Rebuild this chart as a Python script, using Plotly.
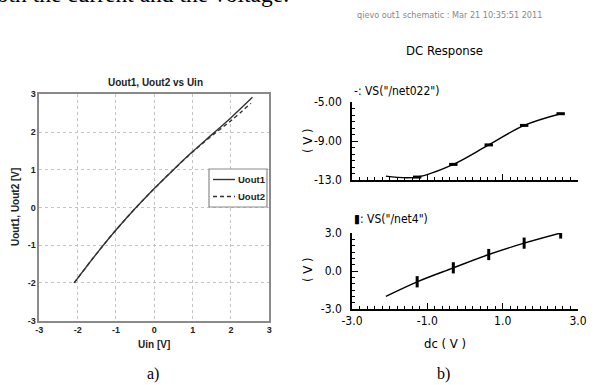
import plotly.graph_objects as go

W, H = 597, 385

# ---- panel a) data (Matlab style) ----
uin_1 = [-2.09, -1.5, -1.0, -0.5, 0.0, 0.5, 1.0, 1.5, 2.0, 2.56]
uout_1 = [-2.0, -1.22, -0.6, -0.03, 0.5, 1.0, 1.48, 1.93, 2.38, 2.92]
uin_2 = [-2.09, -1.5, -1.0, -0.5, 0.0, 0.5, 1.0, 1.5, 2.0, 2.52]
uout_2 = [-2.0, -1.22, -0.6, -0.03, 0.5, 1.0, 1.47, 1.9, 2.3, 2.76]
a_ticks = [-3, -2, -1, 0, 1, 2, 3]
a_ticktext = ["-3", "-2", "-1", "0", "1", "2", "3"]
legend_names = ["Uout1", "Uout2"]

# ---- panel b) data (Cadence style) ----
net022_x = [-2.1, -1.27, -0.31, 0.63, 1.57, 2.54]
net022_y = [-12.6, -12.7, -11.4, -9.4, -7.4, -6.2]
net022_mx = [-1.27, -0.31, 0.63, 1.57, 2.54]
net022_my = [-12.7, -11.4, -9.4, -7.4, -6.2]
net4_x = [-2.1, -1.27, -0.31, 0.63, 1.57, 2.54]
net4_y = [-2.0, -0.85, 0.25, 1.3, 2.2, 3.0]
net4_mx = [-1.27, -0.31, 0.63, 1.57, 2.54]
net4_my = [-0.85, 0.25, 1.3, 2.2, 3.0]
b_xticks = [-3, -1, 1, 3]
b_xticktext = ["-3.0", "-1.0", "1.0", "3.0"]
top_yticks = [-13, -9, -5]
top_yticktext = ["-13.0", "-9.00", "-5.00"]
bot_yticks = [-3, 0, 3]
bot_yticktext = ["-3.0", "0.0", "3.0"]


def px(x):
    return x / W


def py(y):
    return 1 - y / H


ARIAL = "Liberation Sans, Arial, sans-serif"
NARROW = "Liberation Sans Narrow, Arial Narrow, DejaVu Sans Condensed, sans-serif"
TIMES = "Liberation Serif, Times New Roman, serif"
LINE_A = "#333333"

fig = go.Figure()

fig.add_trace(go.Scatter(x=uin_1, y=uout_1, mode="lines", name=legend_names[0],
                         line=dict(color=LINE_A, width=1.4, shape="spline"),
                         xaxis="x", yaxis="y"))
fig.add_trace(go.Scatter(x=uin_2, y=uout_2, mode="lines", name=legend_names[1],
                         line=dict(color=LINE_A, width=1.4, dash="4px,3px", shape="spline"),
                         xaxis="x", yaxis="y"))

fig.add_trace(go.Scatter(x=net022_x, y=net022_y, mode="lines",
                         line=dict(color="black", width=1.4, shape="spline"),
                         xaxis="x2", yaxis="y2"))
fig.add_trace(go.Scatter(x=net022_mx, y=net022_my, mode="markers",
                         marker=dict(symbol="line-ew", size=6, line=dict(color="black", width=3)),
                         xaxis="x2", yaxis="y2"))
fig.add_trace(go.Scatter(x=net4_x, y=net4_y, mode="lines",
                         line=dict(color="black", width=1.4, shape="spline"),
                         xaxis="x3", yaxis="y3"))
fig.add_trace(go.Scatter(x=net4_mx, y=net4_my, mode="markers",
                         marker=dict(symbol="line-ns", size=8, line=dict(color="black", width=3)),
                         xaxis="x3", yaxis="y3"))

a_axis = dict(range=[-3, 3], tickvals=a_ticks, ticktext=a_ticktext, showgrid=True,
              gridcolor="#c4c4c4", griddash="dot", gridwidth=1, showline=True, mirror=True,
              linecolor="#8a8a8a", linewidth=1.5, ticks="", zeroline=False, automargin=False,
              tickfont=dict(family=ARIAL, size=9, color="#222", weight="bold"))

b_common = dict(showgrid=False, zeroline=False, showline=True, linecolor="black",
                linewidth=1.5, ticks="inside", ticklen=6, tickcolor="black", tickwidth=1.3,
                automargin=False,
                tickfont=dict(family=NARROW, size=12, color="black"))

fig.update_layout(
    width=W, height=H, margin=dict(l=0, r=0, t=0, b=0, autoexpand=False),
    paper_bgcolor="white", plot_bgcolor="white", showlegend=False,
    xaxis=dict(domain=[px(39.3), px(269.3)], anchor="y", **a_axis),
    yaxis=dict(domain=[py(320.5), py(94.3)], anchor="x", **a_axis),
    xaxis2=dict(domain=[px(352), px(578)], anchor="y2", range=[-3, 3], tickvals=b_xticks,
                showticklabels=False,
                minor=dict(ticks="inside", dtick=0.2, tick0=-3, ticklen=3, tickcolor="black"),
                **b_common),
    yaxis2=dict(domain=[py(180), py(102)], anchor="x2", range=[-13, -5], tickvals=top_yticks,
                ticktext=top_yticktext, ticklabelstandoff=6,
                minor=dict(ticks="inside", dtick=2 / 3, tick0=-13, ticklen=3, tickcolor="black"),
                **b_common),
    xaxis3=dict(domain=[px(352), px(578)], anchor="y3", range=[-3, 3], tickvals=b_xticks,
                ticktext=b_xticktext,
                minor=dict(ticks="inside", dtick=0.2, tick0=-3, ticklen=3, tickcolor="black"),
                **b_common),
    yaxis3=dict(domain=[py(309), py(233)], anchor="x3", range=[-3, 3], tickvals=bot_yticks,
                ticktext=bot_yticktext, ticklabelstandoff=6,
                minor=dict(ticks="inside", dtick=0.5, tick0=-3, ticklen=3, tickcolor="black"),
                **b_common),
)

# manual legend box for panel a)
shapes = [
    dict(type="rect", xref="paper", yref="paper", x0=px(209), x1=px(267), y0=py(207),
         y1=py(169), line=dict(color="#8a8a8a", width=1.2), fillcolor="white", layer="above"),
    dict(type="line", xref="paper", yref="paper", x0=px(213), x1=px(235), y0=py(179.5),
         y1=py(179.5), line=dict(color=LINE_A, width=1.4), layer="above"),
    dict(type="line", xref="paper", yref="paper", x0=px(213), x1=px(235), y0=py(196.5),
         y1=py(196.5), line=dict(color=LINE_A, width=1.4, dash="4px,3px"), layer="above"),
]
fig.update_layout(shapes=shapes)

ann = []


def add_text(text, x, y, size, family, color="black", angle=0, xanchor="center",
             yanchor="middle", weight="normal"):
    ann.append(dict(text=text, x=px(x), y=py(y), xref="paper", yref="paper",
                    showarrow=False, xanchor=xanchor, yanchor=yanchor, textangle=angle,
                    font=dict(family=family, size=size, color=color, weight=weight)))


add_text("both the current and the voltage.", 291, 9, 23.5, TIMES, xanchor="right",
         yanchor="bottom")
add_text(legend_names[0], 236, 179.5, 9.5, ARIAL, "#222", xanchor="left", weight="bold")
add_text(legend_names[1], 236, 196.5, 9.5, ARIAL, "#222", xanchor="left", weight="bold")
add_text("Uout1, Uout2 vs Uin", 155, 83, 10, ARIAL, "#222", weight="bold")
add_text("Uout1, Uout2 [V]", 16, 207, 10, ARIAL, "#222", angle=-90, weight="bold")
add_text("Uin [V]", 154, 344, 10, ARIAL, "#222", weight="bold")
add_text("a)", 153, 374, 16, TIMES)
add_text("b)", 443, 374, 16, TIMES)
add_text("qievo out1 schematic : Mar 21 10:35:51 2011", 449, 15, 9, NARROW, "#888888")
add_text("DC Response", 444, 50, 13, NARROW)
add_text("-: VS(\"/net022\")", 352, 91, 12, NARROW, xanchor="left")
add_text("\u25ae: VS(\"/net4\")", 352, 219, 12, NARROW, xanchor="left")
add_text("( V )", 307, 141, 13, NARROW, angle=-90)
add_text("( V )", 307, 270, 13, NARROW, angle=-90)
add_text("dc ( V )", 445, 343, 13, NARROW)

fig.update_layout(annotations=ann)
fig.write_html("out.html", config={"displayModeBar": False},
               post_script="document.body.style.margin='0';document.body.style.padding='0';")
